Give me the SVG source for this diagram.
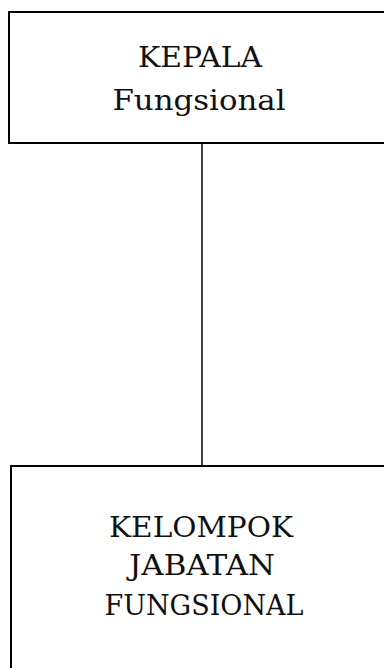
<svg xmlns="http://www.w3.org/2000/svg" width="384" height="668" viewBox="0 0 384 668">
<style>
.box{fill:#fff;stroke:#000;stroke-width:2}
.t{font-family:"DejaVu Serif","Liberation Serif",serif;font-size:27px;fill:#111;text-anchor:middle}
</style>
<rect width="384" height="668" fill="#fff"/>
<g id="connectors"><line x1="202" y1="143" x2="202" y2="466" stroke="#000" stroke-width="1.5"/></g>
<g id="kepala">
<rect class="box" x="9" y="12" width="390" height="131"/>
<text class="t" x="200" y="67" textLength="124" lengthAdjust="spacingAndGlyphs">KEPALA</text>
<text class="t" x="199" y="110" textLength="173" lengthAdjust="spacingAndGlyphs">Fungsional</text>
</g>
<g id="kelompok">
<rect class="box" x="11" y="466" width="390" height="220"/>
<text class="t" x="201" y="537" textLength="184" lengthAdjust="spacingAndGlyphs">KELOMPOK</text>
<text class="t" x="202" y="575" textLength="146" lengthAdjust="spacingAndGlyphs">JABATAN</text>
<text class="t" x="204" y="615" textLength="199" lengthAdjust="spacingAndGlyphs">FUNGSIONAL</text>
</g>
</svg>
